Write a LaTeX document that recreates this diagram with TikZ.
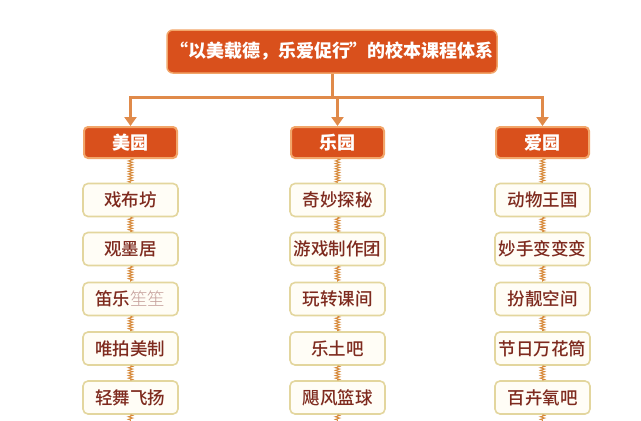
\documentclass[tikz,border=0pt]{standalone}
\usepackage{fontspec}
\setmainfont{Noto Sans CJK SC}
\newfontfamily\medfont{Noto Sans CJK SC Medium}
\newfontfamily\lightfont{Noto Sans CJK SC Light}
\usetikzlibrary{decorations.pathmorphing,arrows.meta}
\definecolor{hdr}{HTML}{D9501C}
\definecolor{hdredge}{HTML}{F2A66A}
\definecolor{link}{HTML}{E08A4A}
\definecolor{boxfill}{HTML}{FFFDF6}
\definecolor{boxedge}{HTML}{E3D69E}
\definecolor{txt}{HTML}{7E2A1E}
\definecolor{coil}{HTML}{D7893A}
\tikzset{
  titlebox/.style={fill=hdr, draw=hdredge, line width=1.5pt, rounded corners=6pt, minimum width=330pt, minimum height=43pt, text=white, font=\fontsize{18}{21}\selectfont\bfseries, inner sep=0pt},
  hdrbox/.style={fill=hdr, draw=hdredge, line width=2pt, rounded corners=4pt, minimum width=93pt, minimum height=31pt, text=white, font=\fontsize{18}{21}\selectfont\bfseries, inner sep=0pt},
  itembox/.style={fill=boxfill, draw=boxedge, line width=1.6pt, rounded corners=5pt, minimum width=95pt, minimum height=33pt, text=txt, font=\fontsize{17.5}{20}\selectfont\medfont, inner sep=0pt},
  mainlink/.style={draw=link, line width=3pt},
  arr/.style={mainlink, -{Triangle[length=9pt, width=12pt]}},
  zz/.style={draw=coil, line width=0.9pt, decorate, decoration={zigzag, amplitude=2.2pt, segment length=2.6pt}}
}
\begin{document}
\begin{tikzpicture}[x=1pt,y=-1pt]
\useasboundingbox (0,0) rectangle (641,421);
\fill[white] (0,0) rectangle (641,421);
\node[titlebox] (T) at (332,51.5) {“以美载德，乐爱促行”的校本课程体系};
\coordinate (J) at (332,97);
\node[hdrbox] (A) at (130.5,142.5) {美园};
\node[hdrbox] (B) at (337.5,142.5) {乐园};
\node[hdrbox] (C) at (542.5,142.5) {爱园};
\draw[mainlink] (T.south) -- (J);
\draw[arr] (J) -| (A.north);
\draw[arr] (J) -| (C.north);
\draw[arr] (J) -| (B.north);
% left column
\node[itembox] (A1) at (130.5,200) {戏布坊};
\node[itembox] (A2) at (130.5,249) {观墨居};
\node[itembox] (A3) at (130.5,299) {笛乐{\color{txt!45}\lightfont 笙笙}};
\node[itembox] (A4) at (130.5,348.5) {唯拍美制};
\node[itembox] (A5) at (130.5,397.5) {轻舞飞扬};
\coordinate (AE) at (130.5,421);
% middle column
\node[itembox] (B1) at (337.5,200) {奇妙探秘};
\node[itembox] (B2) at (337.5,249) {游戏制作团};
\node[itembox] (B3) at (337.5,299) {玩转课间};
\node[itembox] (B4) at (337.5,348.5) {乐土吧};
\node[itembox] (B5) at (337.5,397.5) {飓风篮球};
\coordinate (BE) at (337.5,421);
% right column
\node[itembox] (C1) at (542.5,200) {动物王国};
\node[itembox] (C2) at (542.5,249) {妙手变变变};
\node[itembox] (C3) at (542.5,299) {扮靓空间};
\node[itembox] (C4) at (542.5,348.5) {节日万花筒};
\node[itembox] (C5) at (542.5,397.5) {百卉氧吧};
\coordinate (CE) at (542.5,421);
\foreach \c in {A,B,C}{
  \draw[zz] (\c.south) -- (\c1.north);
  \draw[zz] (\c1.south) -- (\c2.north);
  \draw[zz] (\c2.south) -- (\c3.north);
  \draw[zz] (\c3.south) -- (\c4.north);
  \draw[zz] (\c4.south) -- (\c5.north);
  \draw[zz] (\c5.south) -- (\c E);
}
\end{tikzpicture}
\end{document}
